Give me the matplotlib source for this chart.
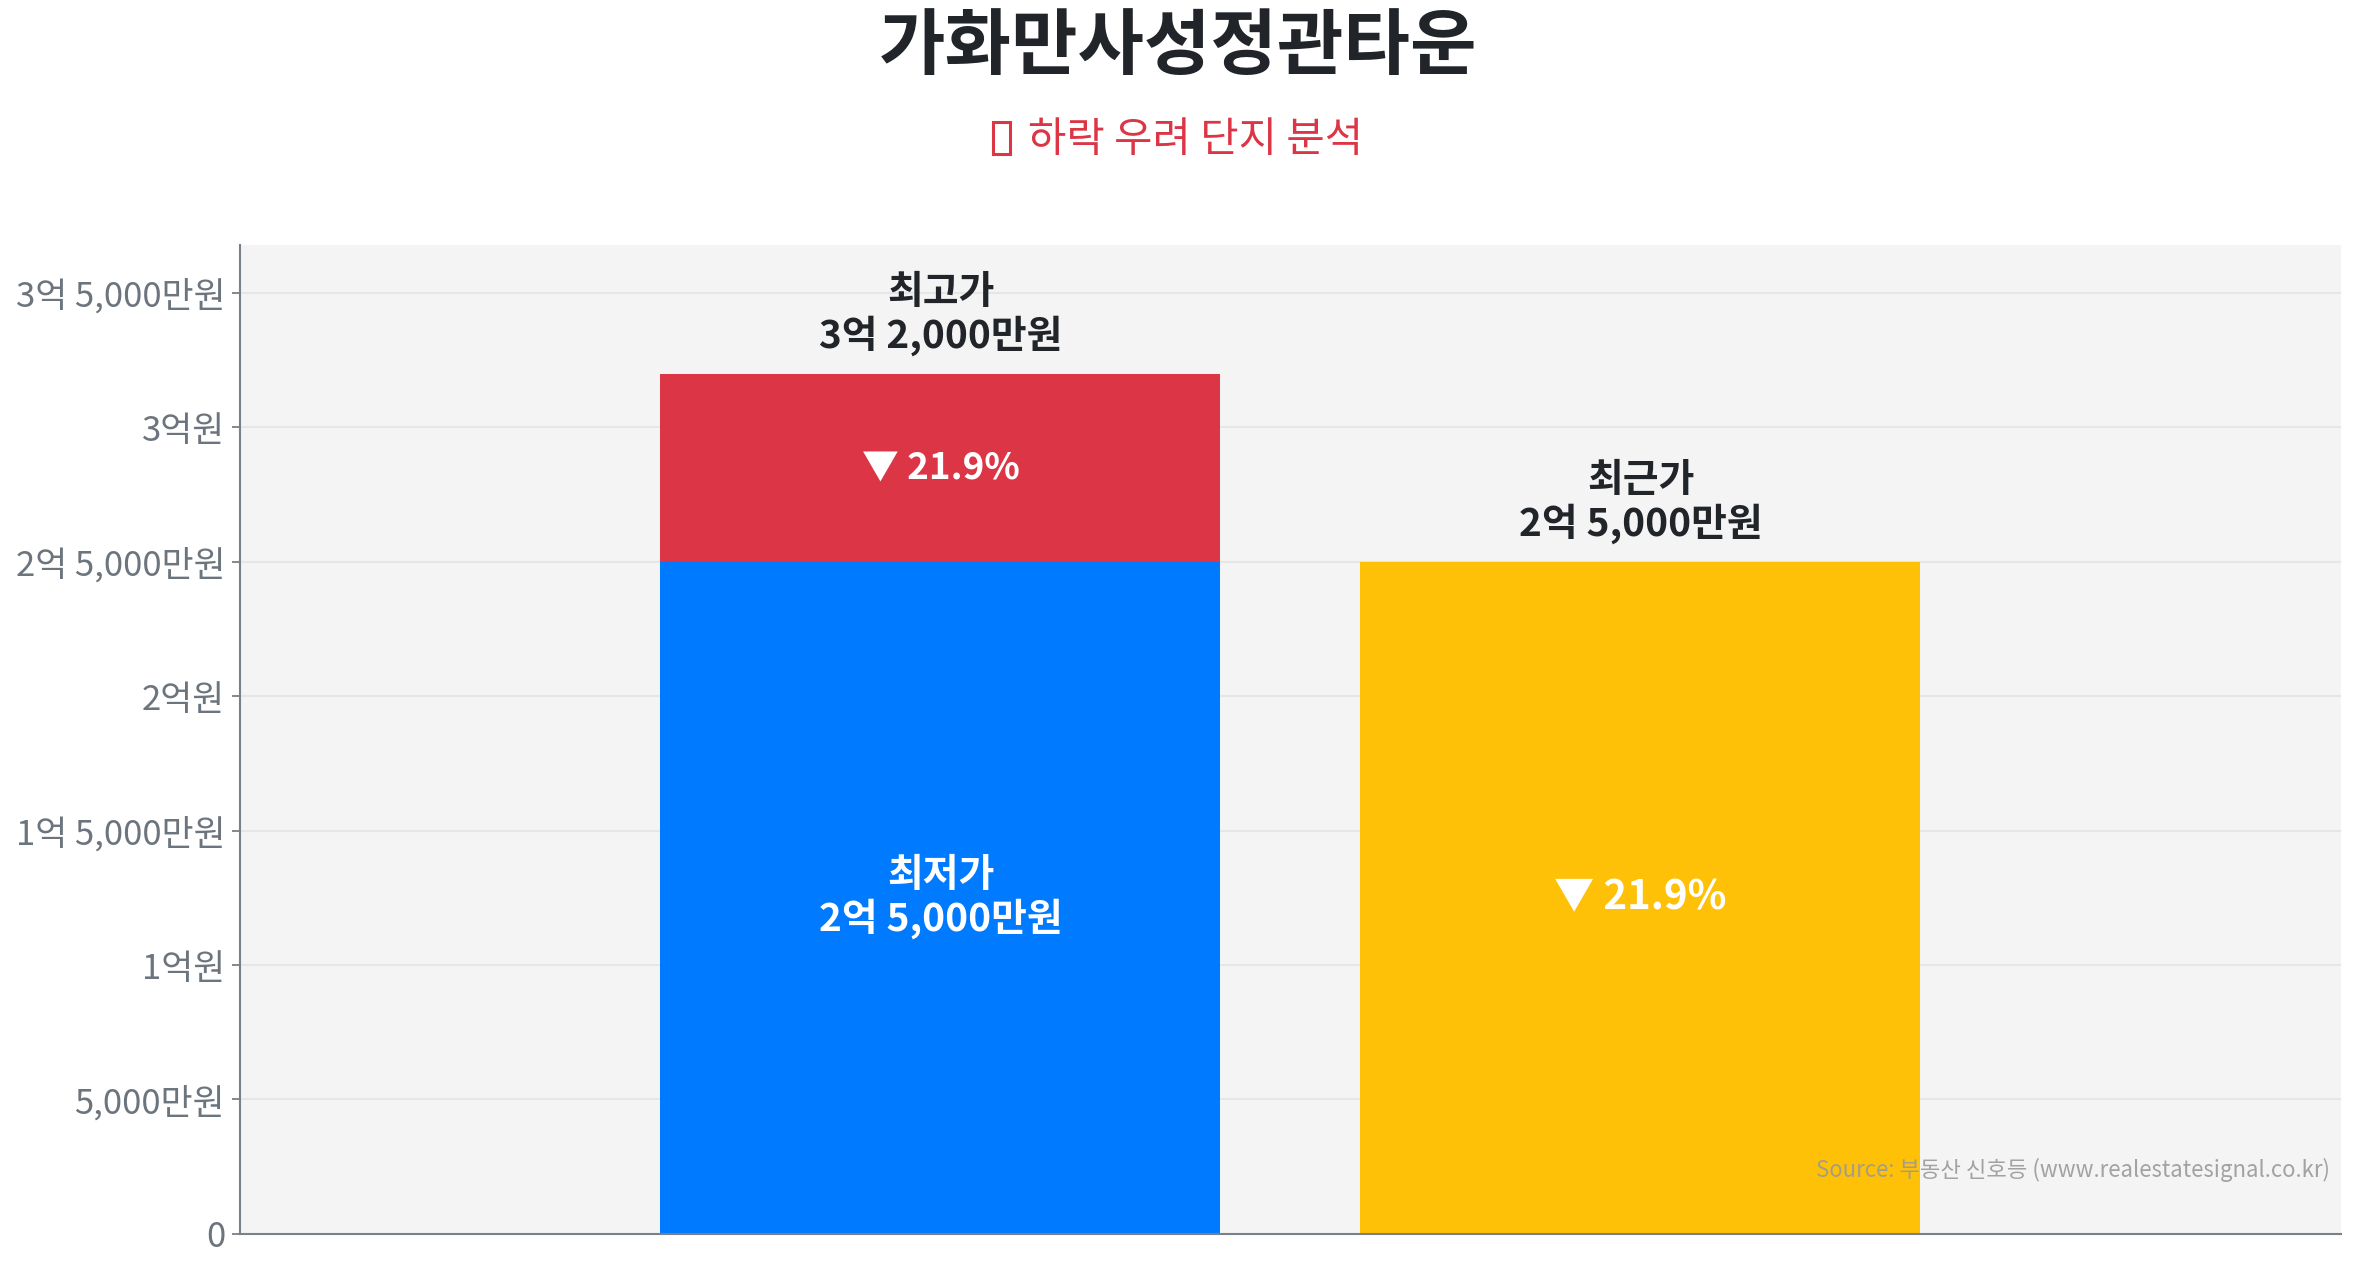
import numpy as np
import matplotlib.pyplot as plt
from matplotlib.ticker import FuncFormatter
from matplotlib.patches import Rectangle

plt.rcParams['font.family'] = ['Noto Sans CJK KR', 'DejaVu Sans']

# 데이터 (단위: 만원)
names = ['최저가', '최근가']
price_max = 32000
price_min = 25000
price_now = 25000
colors = ['#007bff', '#dc3545', '#ffc107']

drop = (price_max - price_min) / price_max * 100


def won(v, pos=None):
    v = int(round(v))
    if v == 0:
        return '0'
    eok, man = divmod(v, 10000)
    if eok == 0:
        return f'{man:,}만원'
    if man == 0:
        return f'{eok}억원'
    return f'{eok}억 {man:,}만원'


fig = plt.figure(figsize=(23.57, 12.68), dpi=100)
ax = fig.add_axes([0.102, 0.027, 0.891, 0.780])
ax.set_facecolor('#f4f4f4')

x = np.arange(len(names))
ax.bar(x[0], price_min, width=0.8, color=colors[0], zorder=2)
ax.bar(x[0], price_max - price_min, bottom=price_min, width=0.8, color=colors[1], zorder=2)
ax.bar(x[1], price_now, width=0.8, color=colors[2], zorder=2)

ax.set_xlim(-1, 2)
ax.set_ylim(0, price_max * 1.15)
ax.set_xticks([])
ax.set_yticks(np.arange(0, 35001, 5000))
ax.yaxis.set_major_formatter(FuncFormatter(won))
ax.tick_params(axis='y', labelsize=25, colors='#6c757d', length=6, width=1.2, pad=5)
ax.grid(axis='y', color='#e6e6e6', linewidth=1.5, zorder=0)
for s in ['top', 'right']:
    ax.spines[s].set_visible(False)
for s in ['left', 'bottom']:
    ax.spines[s].set_color('#7a8088')
    ax.spines[s].set_linewidth(1.5)

# 라벨
ax.annotate(f'최고가\n{won(price_max)}', (x[0], price_max), xytext=(0, 13),
            textcoords='offset points', ha='center', va='bottom',
            fontsize=28, fontweight='bold', color='#212529', linespacing=1.1)
ax.annotate(f'최근가\n{won(price_now)}', (x[1], price_now), xytext=(0, 13),
            textcoords='offset points', ha='center', va='bottom',
            fontsize=28, fontweight='bold', color='#212529', linespacing=1.1)
ax.text(x[0], (price_max + price_min) / 2, f'▼ {drop:.1f}%', ha='center', va='center',
        fontsize=26.5, fontweight='bold', color='white', zorder=3)
ax.text(x[0], price_min / 2, f'{names[0]}\n{won(price_min)}', ha='center', va='center',
        fontsize=28, fontweight='bold', color='white', linespacing=1.1, zorder=3)
ax.text(x[1], price_now / 2, f'▼ {drop:.1f}%', ha='center', va='center',
        fontsize=29, fontweight='bold', color='white', zorder=3)

ax.text(0.995, 0.065, 'Source: 부동산 신호등 (www.realestatesignal.co.kr)', transform=ax.transAxes,
        ha='right', va='center', fontsize=16, color='#999999', alpha=0.9, zorder=4)

fig.text(0.5, 0.962, '가화만사성정관타운', ha='center', va='center',
         fontsize=52, fontweight='bold', color='#212529')

# 부제목: 이모지는 설치된 글꼴에 없어서 빈 상자 모양으로 그림
sub = fig.text(0.5, 0.889, '하락 우려 단지 분석', ha='left', va='center',
               fontsize=30, color='#dc3545')
fig.canvas.draw()
bb = sub.get_window_extent().transformed(fig.transFigure.inverted())
W, H = fig.get_size_inches() * fig.dpi
box_w, box_h, gap = 17 / W, 32 / H, 18 / W
total = box_w + gap + bb.width
x0 = 0.5 - total / 2
sub.set_x(x0 + box_w + gap)
fig.add_artist(Rectangle((x0, 0.889 - box_h / 2 + 0.002), box_w, box_h, transform=fig.transFigure,
                         fill=False, edgecolor='#dc3545', linewidth=2.2))

fig.savefig('out.png', dpi=100)
